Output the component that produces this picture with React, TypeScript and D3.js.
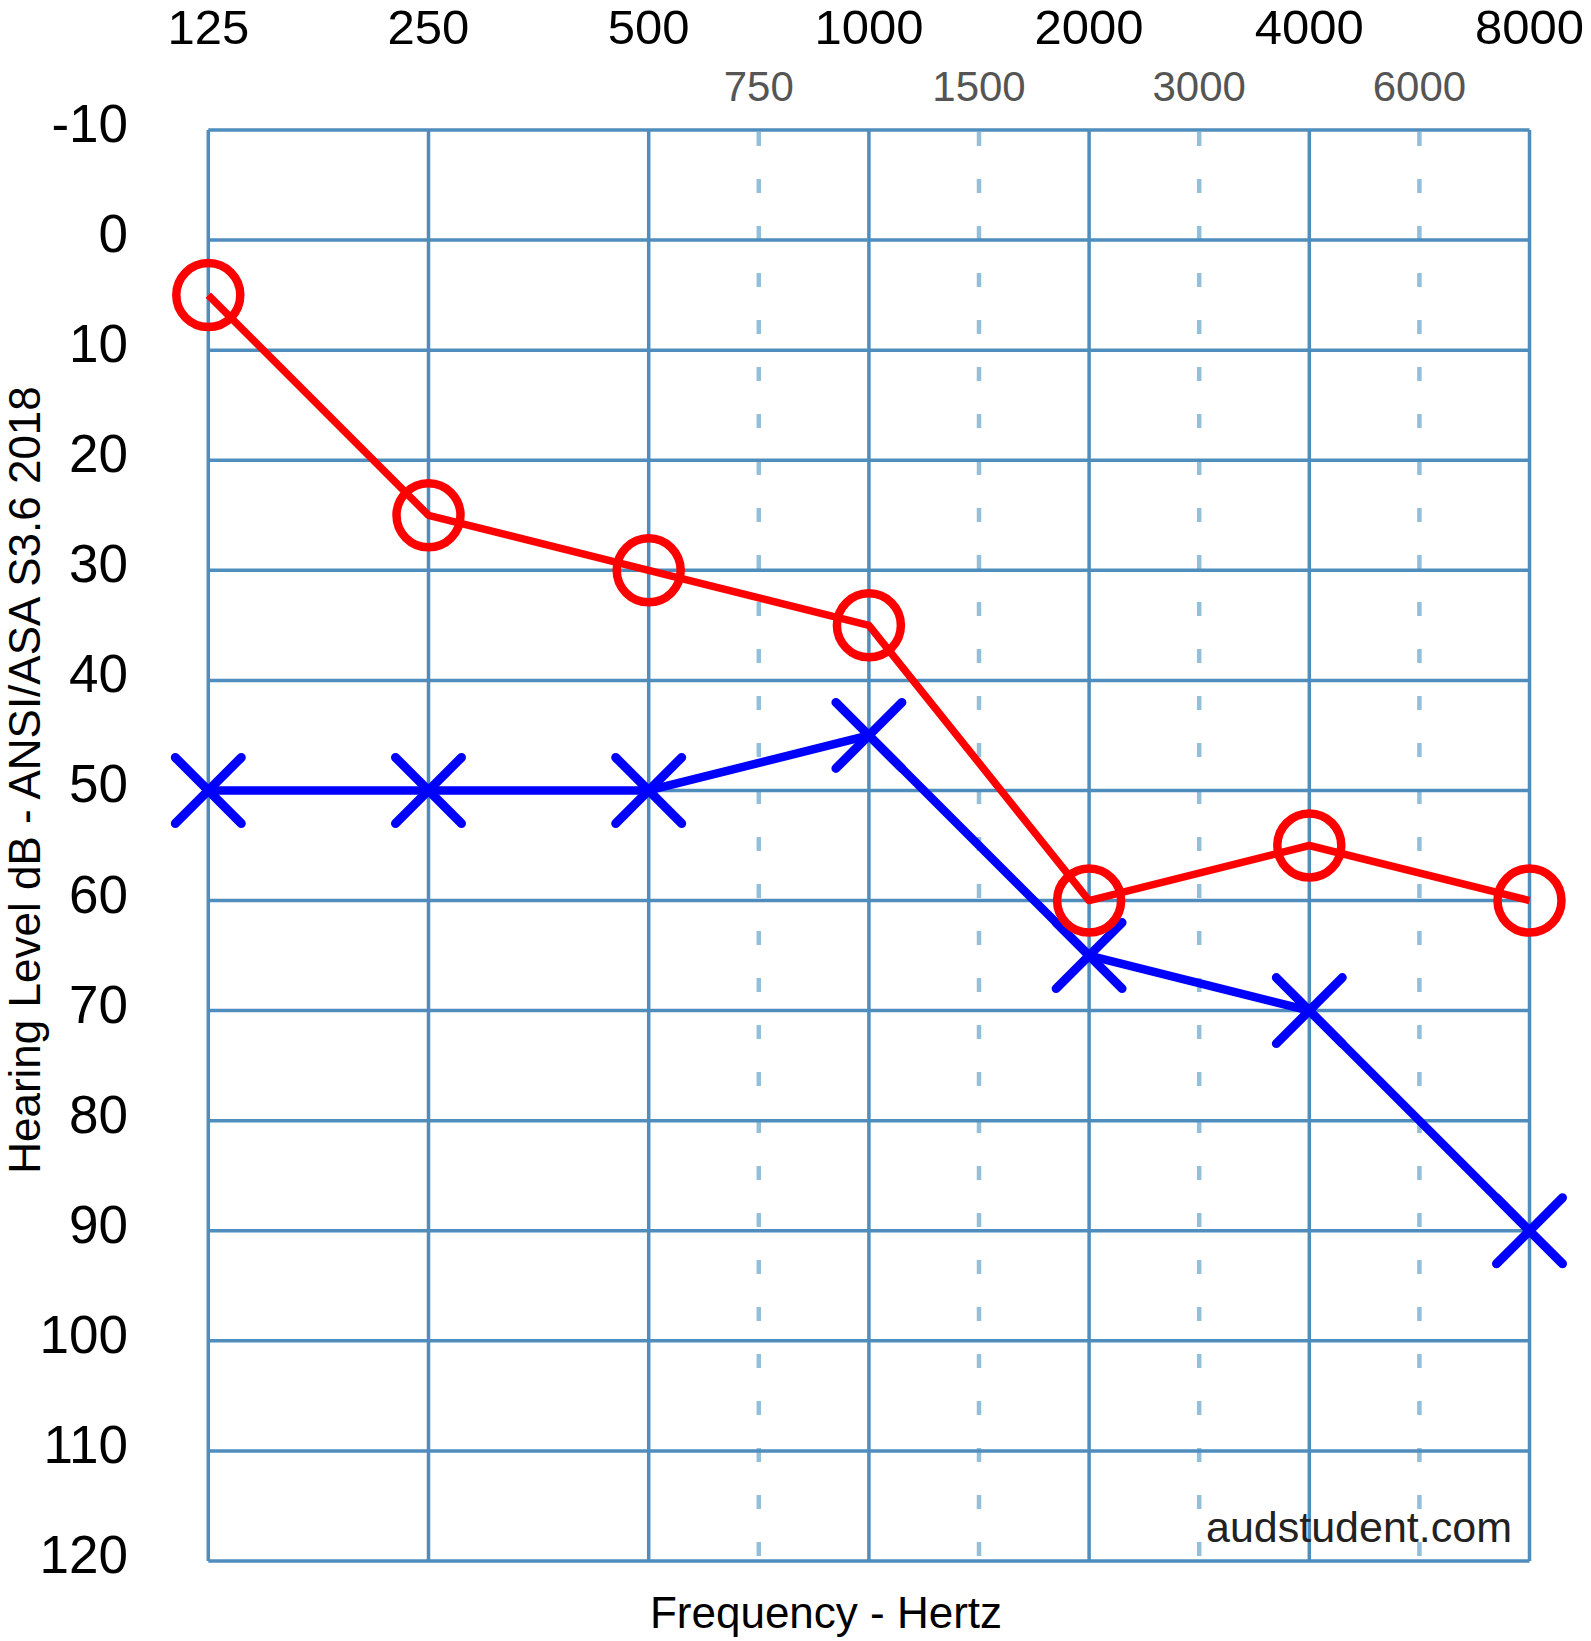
import * as d3 from "d3";

// audiogram data (dB HL)
const freqs = ["125", "250", "500", "1000", "2000", "4000", "8000"];
const midFreqs = ["750", "1500", "3000", "6000"];
const dbTicks = [-10, 0, 10, 20, 30, 40, 50, 60, 70, 80, 90, 100, 110, 120];
const rightEar = [5, 25, 30, 35, 60, 55, 60];
const leftEar = [50, 50, 50, 45, 65, 70, 90];

const W = 1591;
const H = 1641;
const FONT = "Arial, 'Liberation Sans', sans-serif";

const x = d3.scalePoint<string>().domain(freqs).range([208.3, 1529.5]);
const y = d3.scaleLinear().domain([-10, 120]).range([130, 1561]);

// half-octave freqs sit half way between their neighbours (750 is between 500 and 1000)
const midX = (i: number) => ((x(freqs[i + 2]) as number) + (x(freqs[i + 3]) as number)) / 2;

const line = d3
  .line<number>()
  .x((_, i) => x(freqs[i]) as number)
  .y((d) => y(d));

const App = () => {
  const gridColor = "#4f8dbd";
  const dashColor = "#93bfdb";
  const arm = 33;

  return (
    <div style={{ position: "absolute", left: 0, top: 0 }}>
      <svg width={W} height={H} style={{ display: "block", background: "#fff" }}>
        {/* dashed half-octave lines */}
        {midFreqs.map((f, i) => (
          <g key={f}>
            <line
              x1={midX(i)}
              x2={midX(i)}
              y1={y(-10) + 2}
              y2={y(120)}
              stroke={dashColor}
              strokeWidth={4.5}
              strokeDasharray="14 33"
            />
            <text
              x={midX(i)}
              y={101}
              textAnchor="middle"
              fontFamily={FONT}
              fontSize={42}
              fill="#555"
            >
              {f}
            </text>
          </g>
        ))}

        {/* horizontal grid */}
        {dbTicks.map((d) => (
          <g key={d}>
            <line
              x1={x.range()[0]}
              x2={x.range()[1]}
              y1={y(d)}
              y2={y(d)}
              stroke={gridColor}
              strokeWidth={3.5}
            />
            <text
              x={128}
              y={y(d) + 12}
              textAnchor="end"
              fontFamily={FONT}
              fontSize={53}
              fill="#000"
            >
              {d}
            </text>
          </g>
        ))}

        {/* vertical grid */}
        {freqs.map((f) => (
          <g key={f}>
            <line
              x1={x(f)}
              x2={x(f)}
              y1={y(-10)}
              y2={y(120)}
              stroke={gridColor}
              strokeWidth={3.5}
            />
            <text
              x={x(f)}
              y={44}
              textAnchor="middle"
              fontFamily={FONT}
              fontSize={49}
              fill="#000"
            >
              {f}
            </text>
          </g>
        ))}

        <text
          x={1512}
          y={1542}
          textAnchor="end"
          fontFamily={FONT}
          fontSize={43}
          fill="#222"
        >
          audstudent.com
        </text>

        {/* left ear: blue X */}
        <path d={line(leftEar) || ""} fill="none" stroke="#0000ff" strokeWidth={8.5} strokeLinejoin="round" />
        {leftEar.map((d, i) => {
          const cx = x(freqs[i]) as number;
          const cy = y(d);
          return (
            <path
              key={"x" + i}
              d={`M${cx - arm},${cy - arm}L${cx + arm},${cy + arm}M${cx - arm},${cy + arm}L${cx + arm},${cy - arm}`}
              stroke="#0000ff"
              strokeWidth={9}
              strokeLinecap="round"
            />
          );
        })}

        {/* right ear: red O */}
        {rightEar.map((d, i) => (
          <circle
            key={"o" + i}
            cx={x(freqs[i])}
            cy={y(d)}
            r={32}
            fill="none"
            stroke="#ff0000"
            strokeWidth={8.5}
          />
        ))}
        <path d={line(rightEar) || ""} fill="none" stroke="#ff0000" strokeWidth={7.5} strokeLinejoin="round" />

        {/* axis titles */}
        <text
          x={826}
          y={1628}
          textAnchor="middle"
          fontFamily={FONT}
          fontSize={44}
          fill="#000"
        >
          Frequency - Hertz
        </text>
        <text
          transform="translate(40,780) rotate(-90)"
          textAnchor="middle"
          fontFamily={FONT}
          fontSize={44}
          fill="#000"
        >
          Hearing Level dB - ANSI/ASA S3.6 2018
        </text>
      </svg>
    </div>
  );
};

export default App;
